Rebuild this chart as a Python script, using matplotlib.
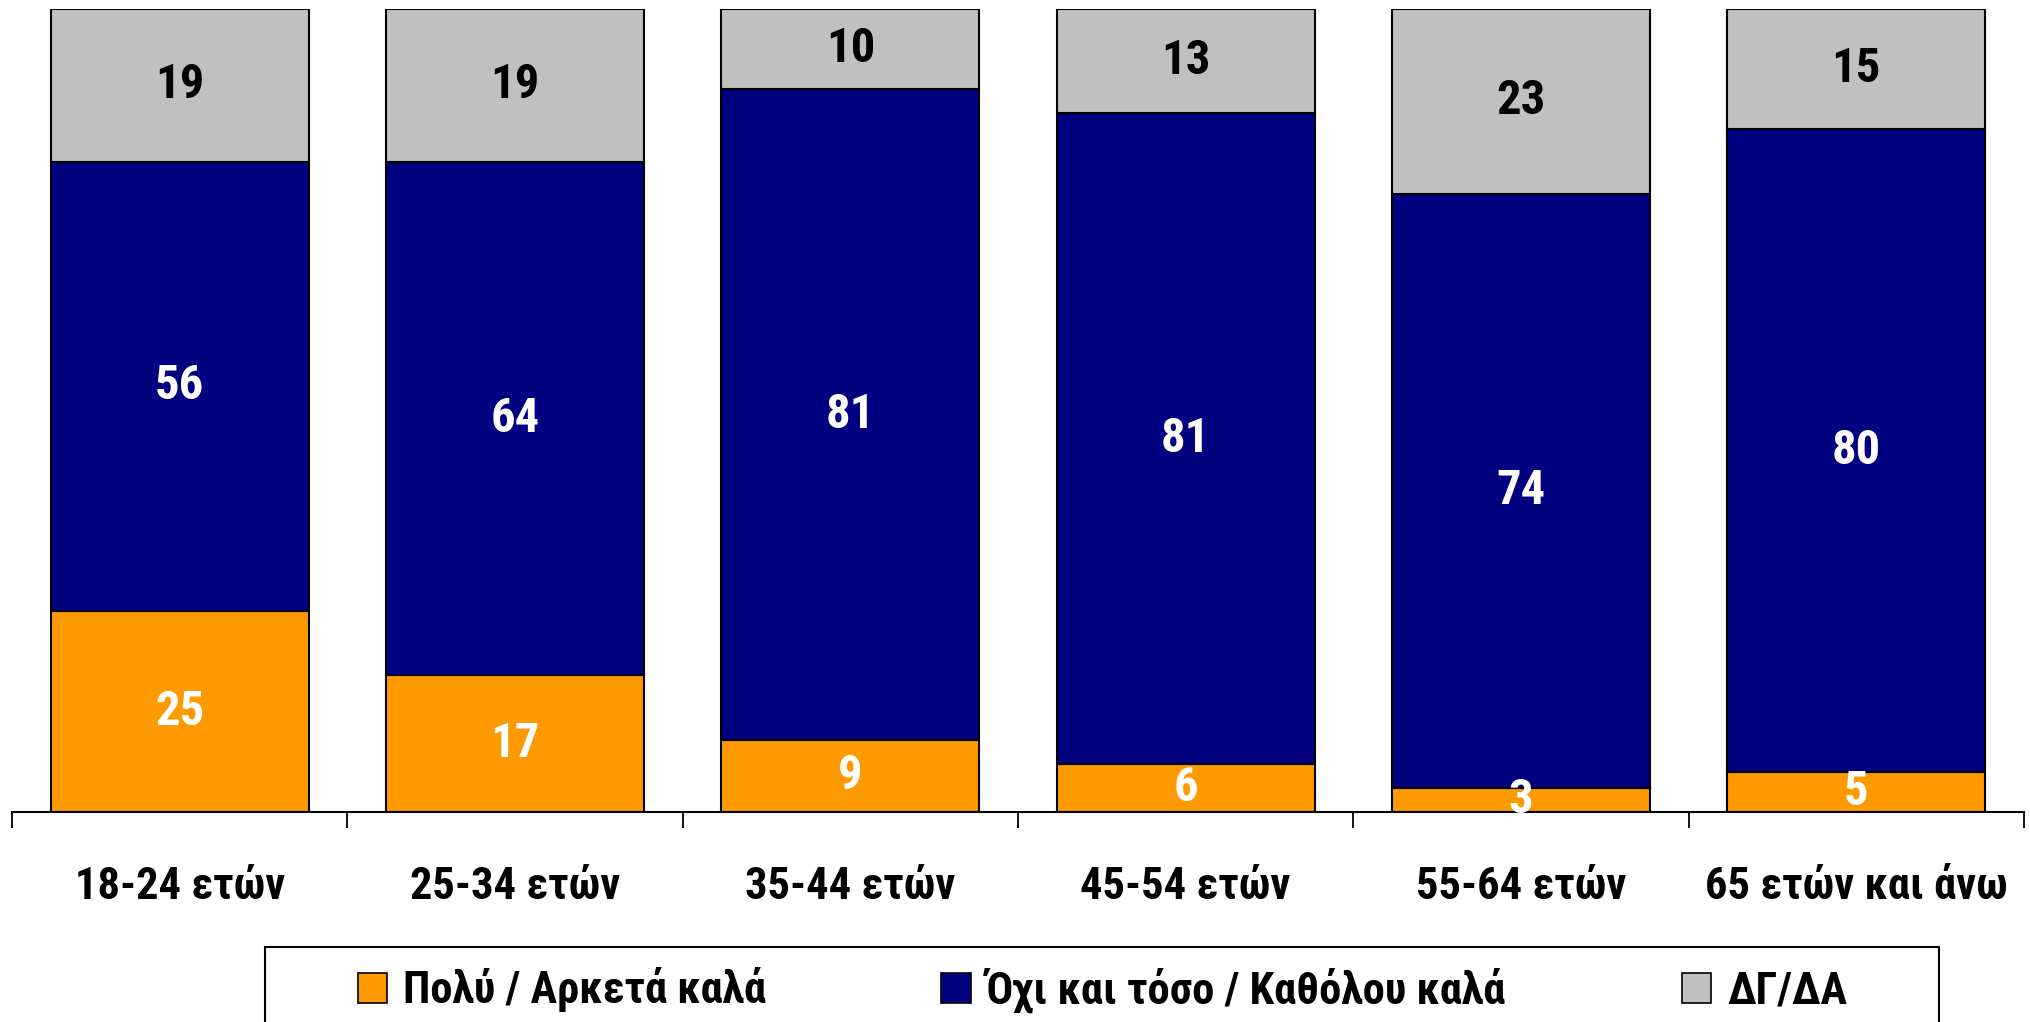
import matplotlib
matplotlib.use("Agg")
import matplotlib.pyplot as plt
from matplotlib import font_manager
from matplotlib.patches import Patch, Rectangle

# pick a narrow bold font if there is one
names = {f.name for f in font_manager.fontManager.ttflist}
font = "Liberation Sans"
for cand in ["Liberation Sans Narrow", "Arial Narrow", "Roboto Condensed", "DejaVu Sans Condensed"]:
    if cand in names:
        font = cand
        break
plt.rcParams["font.family"] = [font, "DejaVu Sans"]
plt.rcParams["font.weight"] = "bold"

# data
categories = ["18-24 ετών", "25-34 ετών", "35-44 ετών", "45-54 ετών", "55-64 ετών", "65 ετών και άνω"]
good = [25, 17, 9, 6, 3, 5]
not_good = [56, 64, 81, 81, 74, 80]
dk_na = [19, 19, 10, 13, 23, 15]
series_names = ["Πολύ / Αρκετά καλά", "Όχι και τόσο / Καθόλου καλά", "ΔΓ/ΔΑ"]
colors = ["#FF9900", "#000080", "#C0C0C0"]
text_colors = ["white", "white", "black"]

W, H = 2031, 1022
fig = plt.figure(figsize=(W / 100, H / 100), dpi=100)
ax = fig.add_axes([12 / W, 1 - 812 / H, (2024 - 12) / W, (812 - 9) / H])

x = list(range(len(categories)))
bottoms = [0] * len(categories)
for vals, col, tcol in zip([good, not_good, dk_na], colors, text_colors):
    ax.bar(x, vals, width=0.77, bottom=bottoms, color=col,
           edgecolor="black", linewidth=1.5, zorder=2)
    for xi, b, v in zip(x, bottoms, vals):
        ax.text(xi, b + v / 2, str(v), ha="center", va="center",
                color=tcol, fontsize=35, fontweight="bold", zorder=3)
    bottoms = [b + v for b, v in zip(bottoms, vals)]

ax.set_xlim(-0.5, len(categories) - 0.5)
ax.set_ylim(0, 100)
ax.set_xticks([i - 0.5 for i in range(len(categories) + 1)])
ax.set_xticklabels([])
ax.set_xticks(x, minor=True)
ax.set_xticklabels(categories, minor=True, fontsize=32, fontweight="bold")
ax.tick_params(axis="x", which="major", length=11.5, width=1.3, direction="out")
ax.tick_params(axis="x", which="minor", length=0, pad=39)
ax.set_yticks([])
for s in ["left", "top", "right"]:
    ax.spines[s].set_visible(False)
ax.spines["bottom"].set_linewidth(1.5)

# legend, frame runs off the bottom of the figure
handles = [Patch(facecolor=c, edgecolor="black", linewidth=1.2) for c in colors]
fig.legend(handles, series_names, loc="center left",
           bbox_to_anchor=(358 / W, 1 - 990 / H), ncol=3, frameon=False,
           borderpad=0, borderaxespad=0,
           handlelength=0.66, handleheight=0.66, handletextpad=0.35,
           columnspacing=3.95, prop={"weight": "bold", "size": 32})
fig.patches.append(Rectangle((265 / W, -0.1), (1939 - 265) / W, 0.1 + (1022 - 947) / H,
                             transform=fig.transFigure, fill=False,
                             edgecolor="black", linewidth=1.5))

fig.savefig("out.png", dpi=100)
